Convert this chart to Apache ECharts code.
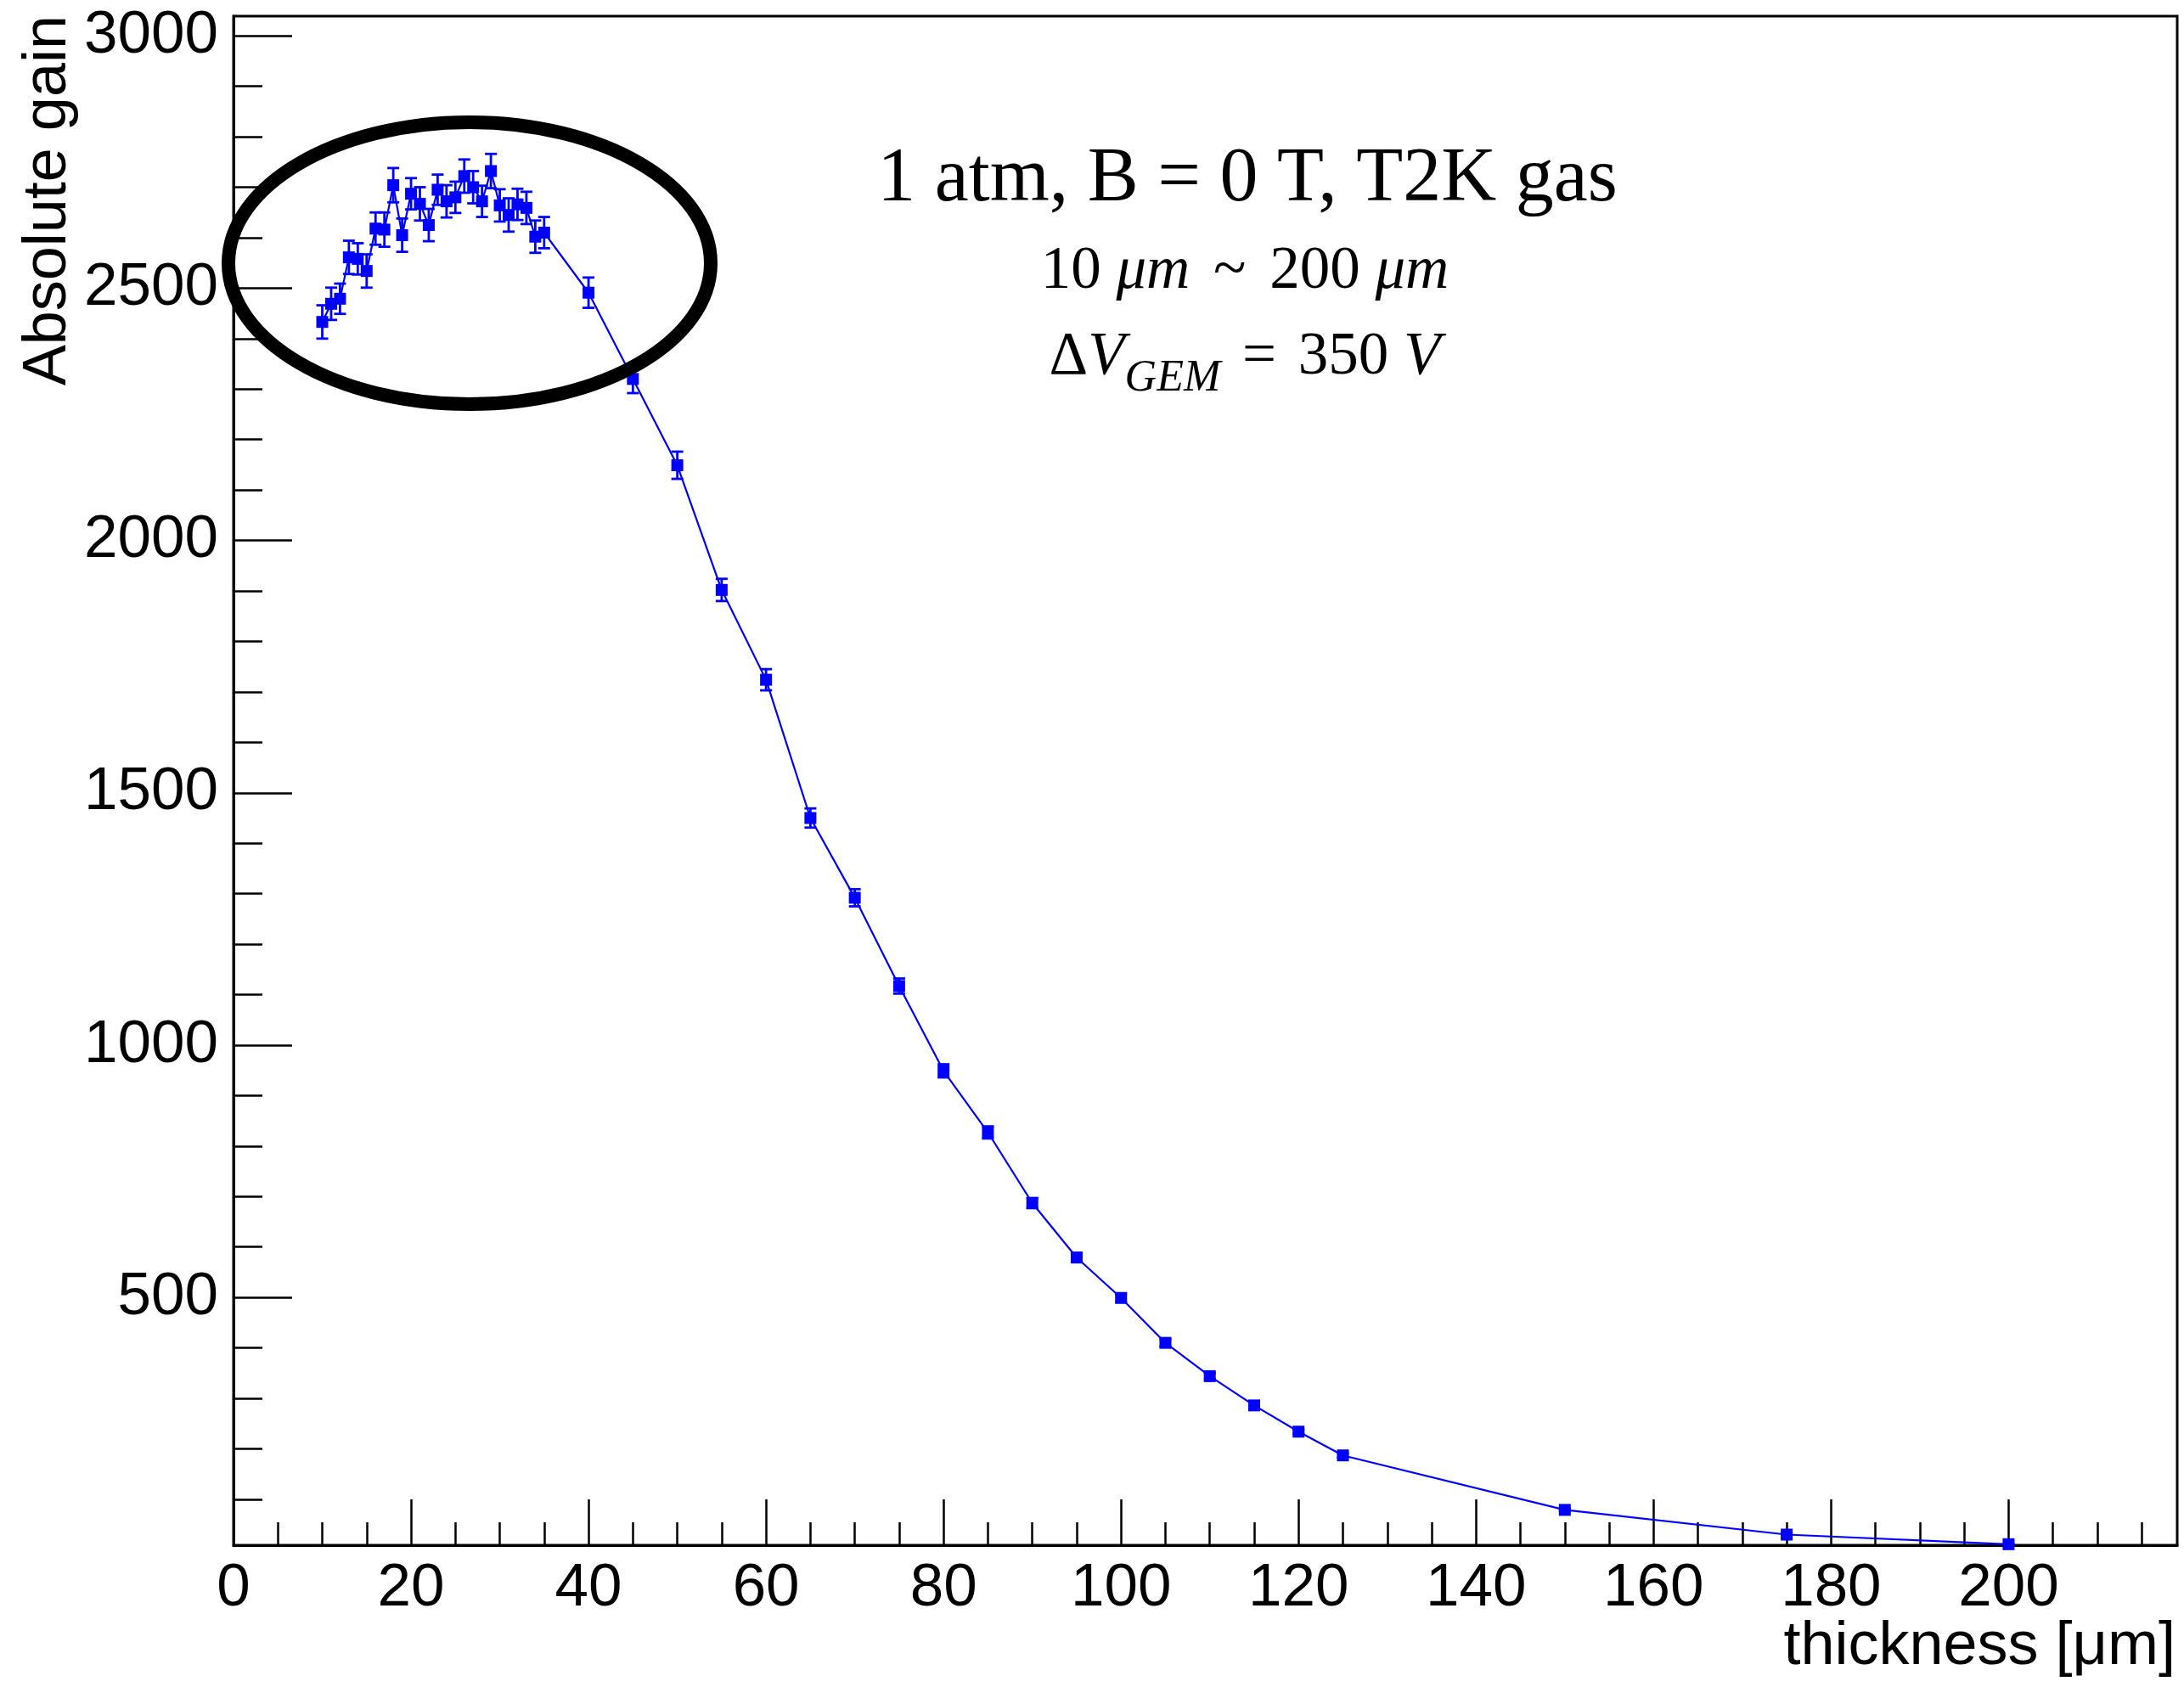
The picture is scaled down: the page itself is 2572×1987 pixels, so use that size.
<!DOCTYPE html>
<html>
<head>
<meta charset="utf-8">
<script src="https://cdn.jsdelivr.net/npm/echarts@6/dist/echarts.min.js"></script>
<style>
html,body{margin:0;padding:0;background:#fff;}
#chart{width:2572px;height:1987px;}
</style>
</head>
<body>
<div id="chart"></div>
<script>
// ---- data ----
const thickness = [10,11,12,13,14,15,16,17,18,19,20,21,22,23,24,25,26,27,28,29,30,31,32,33,34,35,
                   40,45,50,55,60,65,70,75,80,85,90,95,100,105,110,115,120,125,150,175,200];
const gain = [2433,2469,2479,2561,2558,2534,2618,2616,2704,2605,2687,2667,2625,2695,2672,2680,2722,2700,2672,2732,2664,2645,2666,2659,2602,2610,
              2491,2320,2149,1902,1724,1450,1292,1117,949,827,687,579,499,410,344,286,234,187,79,30,11];
const gainErr = [33,32,30,33,31,33,32,34,34,33,31,33,32,30,32,31,33,32,31,34,32,33,31,32,32,31,
                 30,28,27,22,21,19,17,15,13,12,10,9,8,7,6,5,4,4,2,1,1];
const xMajorTicks = [0,20,40,60,80,100,120,140,160,180,200];
const xMinorTicks = [5,10,15,25,30,35,45,50,55,65,70,75,85,90,95,105,110,115,125,130,135,145,150,155,165,170,175,185,190,195,205,210,215];
const yMajorTicks = [500,1000,1500,2000,2500,3000];
const yMinorTicks = [100,200,300,400,600,700,800,900,1100,1200,1300,1400,1600,1700,1800,1900,2100,2200,2300,2400,2600,2700,2800,2900];
const xRange = [0, 219];
const yRange = [9, 3039];
const xTitle = 'thickness [μm]';
const yTitle = 'Absolute gain';

// ---- chart ----
const chart = echarts.init(document.getElementById('chart'), null, {renderer: 'canvas'});
const BLUE = '#0000ff';
const labelFont = {fontFamily: '"Liberation Sans", Arial, sans-serif', fontSize: 71, color: '#000'};

const points = thickness.map((t, i) => [t, gain[i]]);
const errData = thickness.map((t, i) => [t, gain[i] - gainErr[i], gain[i] + gainErr[i]]);

function axisPair(kind, range, major, minor, majorLen, minorLen, labelMargin) {
  const base = {
    type: 'value', min: range[0], max: range[1],
    splitLine: {show: false}
  };
  return [
    Object.assign({}, base, {
      position: kind === 'x' ? 'bottom' : 'left',
      axisLine: {show: true, lineStyle: {color: '#000', width: 3}},
      axisTick: {show: true, inside: true, length: majorLen, customValues: major,
                 lineStyle: {color: '#000', width: 2.5}},
      axisLabel: Object.assign({show: true, margin: labelMargin, customValues: major,
                                formatter: function (v) { return String(v); }}, labelFont)
    }),
    Object.assign({}, base, {
      position: kind === 'x' ? 'bottom' : 'left', offset: 0,
      axisLine: {show: false},
      axisTick: {show: true, inside: true, length: minorLen, customValues: minor,
                 lineStyle: {color: '#000', width: 2.5}},
      axisLabel: {show: false}
    })
  ];
}

const serif = '"Liberation Serif", "Times New Roman", serif';

const option = {
  animation: false,
  backgroundColor: '#fff',
  grid: {left: 275, right: 8, top: 19, bottom: 167, show: true,
         borderColor: '#000', borderWidth: 3, containLabel: false, outerBoundsMode: 'none'},
  xAxis: axisPair('x', xRange, xMajorTicks, xMinorTicks, 54, 27, 16),
  yAxis: axisPair('y', yRange, yMajorTicks, yMinorTicks, 69, 34, 18),
  series: [
    {
      type: 'custom',
      name: 'errors',
      xAxisIndex: 0, yAxisIndex: 0,
      clip: true,
      encode: {x: 0, y: [1, 2]},
      data: errData,
      z: 3,
      renderItem: function (params, api) {
        const x = api.value(0);
        const lo = api.coord([x, api.value(1)]);
        const hi = api.coord([x, api.value(2)]);
        const cap = 7;
        const st = {stroke: BLUE, lineWidth: 2.8};
        return {
          type: 'group',
          children: [
            {type: 'line', shape: {x1: lo[0], y1: lo[1], x2: hi[0], y2: hi[1]}, style: st},
            {type: 'line', shape: {x1: lo[0] - cap, y1: lo[1], x2: lo[0] + cap, y2: lo[1]}, style: st},
            {type: 'line', shape: {x1: hi[0] - cap, y1: hi[1], x2: hi[0] + cap, y2: hi[1]}, style: st}
          ]
        };
      }
    },
    {
      type: 'line',
      name: 'gain',
      xAxisIndex: 0, yAxisIndex: 0,
      data: points,
      showAllSymbol: true,
      symbol: 'rect',
      symbolSize: 14,
      itemStyle: {color: BLUE},
      lineStyle: {color: BLUE, width: 2.2},
      z: 4
    }
  ],
  graphic: [
    // highlight ring
    {type: 'ellipse', z: 100, shape: {cx: 553, cy: 310, rx: 284, ry: 166},
     style: {fill: 'transparent', stroke: '#000', lineWidth: 16}},
    // annotations
    {type: 'text', z: 100, x: 1469, y: 212,
     style: {text: '1 atm, B = 0 T, T2K gas', fontFamily: serif,
             fontSize: 90, fill: '#000', align: 'center', verticalAlign: 'middle'}},
    {type: 'text', z: 100, x: 1466, y: 320,
     style: {text: '{n|10 }{i|μm}{g| }{n|~}{g| }{n|200 }{i|μm}', fill: '#000', align: 'center', verticalAlign: 'middle',
             rich: {
               n: {fontFamily: serif, fontSize: 71, fill: '#000'},
               i: {fontFamily: serif, fontSize: 71, fontStyle: 'italic', fill: '#000'},
               g: {fontFamily: serif, fontSize: 71, fill: '#000', padding: [0, 5, 0, 5]}
             }}},
    {type: 'text', z: 100, x: 1466, y: 421,
     style: {text: '{n|Δ}{i|V}{s|GEM}{g| }{n|=}{g| }{n|350 }{i|V}', fill: '#000', align: 'center', verticalAlign: 'middle',
             rich: {
               n: {fontFamily: serif, fontSize: 71, lineHeight: 71, fill: '#000'},
               i: {fontFamily: serif, fontSize: 71, lineHeight: 71, fontStyle: 'italic', fill: '#000'},
               g: {fontFamily: serif, fontSize: 71, lineHeight: 71, fill: '#000', padding: [0, 4, 0, 4]},
               s: {fontFamily: serif, fontSize: 52, fontStyle: 'italic', fill: '#000',
                   lineHeight: 21, padding: [50, 0, 0, 0]}
             }}},
    // axis titles
    {type: 'text', z: 100, x: 2562, y: 1940,
     style: {text: xTitle, fontFamily: '"Liberation Sans", Arial, sans-serif', fontSize: 72, fill: '#000',
             align: 'right', verticalAlign: 'middle'}},
    {type: 'text', z: 100, x: 57, y: 18, rotation: Math.PI / 2,
     style: {text: yTitle, fontFamily: '"Liberation Sans", Arial, sans-serif', fontSize: 72, fill: '#000',
             align: 'right', verticalAlign: 'middle'}}
  ]
};
chart.setOption(option);
</script>
</body>
</html>
